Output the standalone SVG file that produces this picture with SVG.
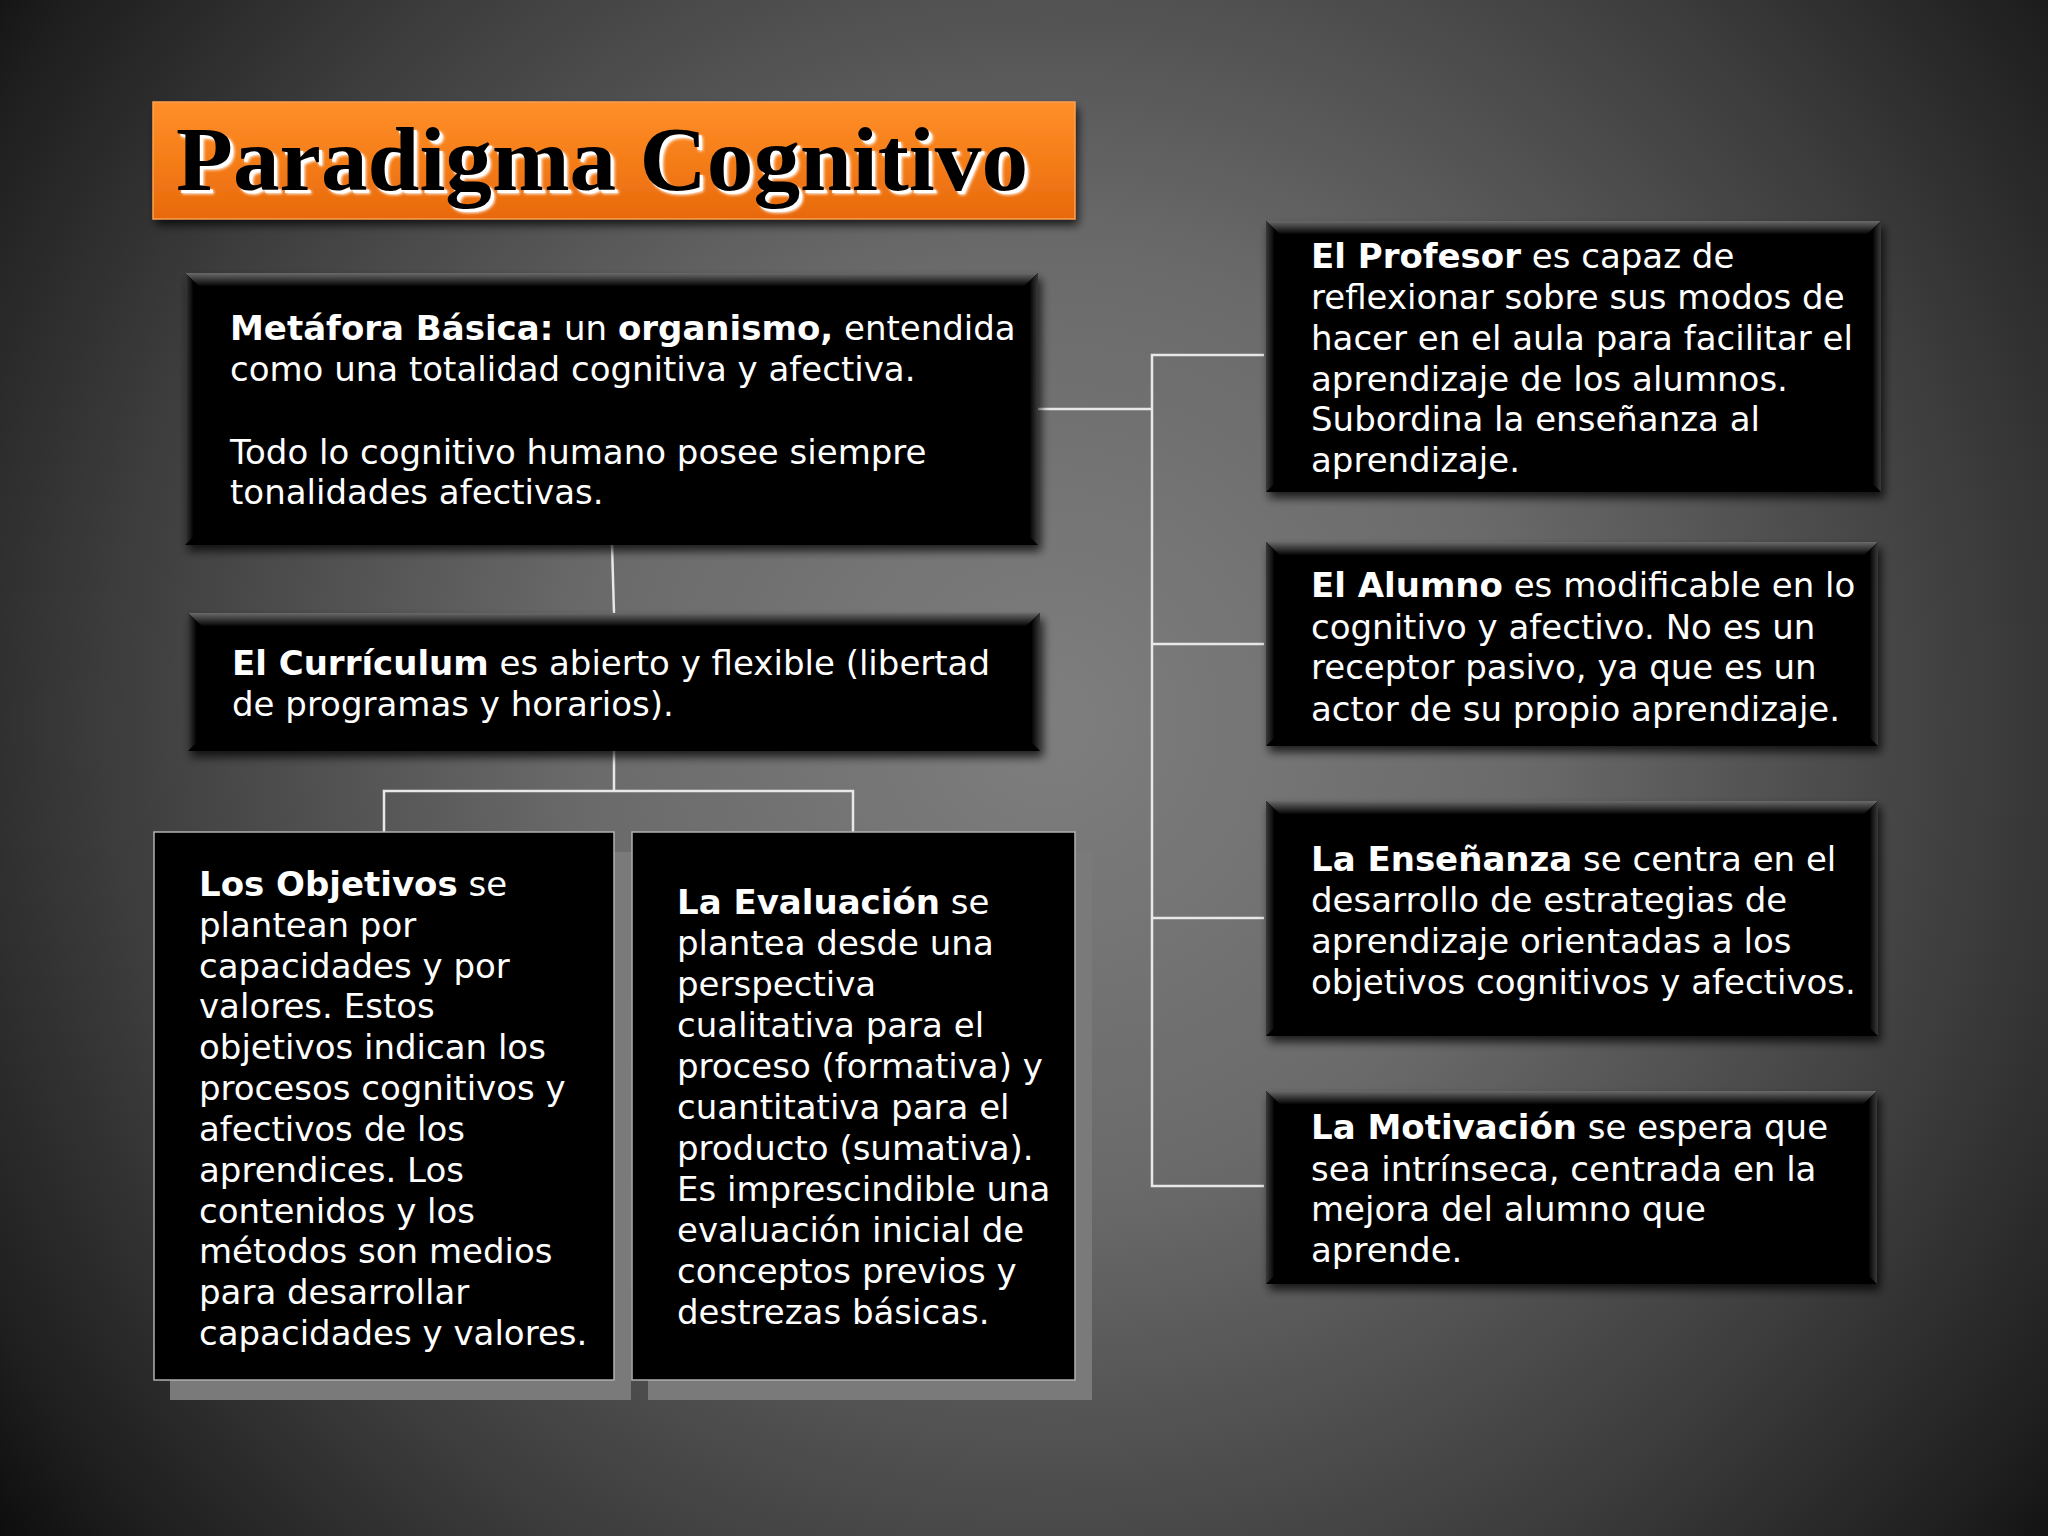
<svg xmlns="http://www.w3.org/2000/svg" width="2048" height="1536" viewBox="0 0 2048 1536">
<defs>
<radialGradient id="bg" cx="1050" cy="720" r="1350" gradientUnits="userSpaceOnUse">
<stop offset="0" stop-color="#7e7e7e"/>
<stop offset="0.35" stop-color="#6a6a6a"/>
<stop offset="0.7" stop-color="#3c3c3c"/>
<stop offset="0.9" stop-color="#1e1e1e"/>
<stop offset="1" stop-color="#0a0a0a"/>
</radialGradient>
<linearGradient id="orange" x1="0" y1="0" x2="0" y2="1">
<stop offset="0" stop-color="#ff8f2a"/>
<stop offset="0.5" stop-color="#f57d18"/>
<stop offset="1" stop-color="#e8690c"/>
</linearGradient>
<linearGradient id="bevT" x1="0" y1="0" x2="0" y2="1">
<stop offset="0" stop-color="#6a6a6a"/>
<stop offset="1" stop-color="#050505"/>
</linearGradient>
<linearGradient id="bevL" x1="0" y1="0" x2="1" y2="0">
<stop offset="0" stop-color="#3a3a3a"/>
<stop offset="1" stop-color="#050505"/>
</linearGradient>
<linearGradient id="bevR" x1="1" y1="0" x2="0" y2="0">
<stop offset="0" stop-color="#3a3a3a"/>
<stop offset="1" stop-color="#050505"/>
</linearGradient>
<filter id="shadow" x="-10%" y="-10%" width="120%" height="130%">
<feDropShadow dx="3" dy="6" stdDeviation="5" flood-color="#000" flood-opacity="0.75"/>
</filter>
<filter id="glow" x="-5%" y="-20%" width="110%" height="140%">
<feGaussianBlur stdDeviation="1.8"/>
</filter>
</defs>
<style>
.body{font-family:"DejaVu Sans","Verdana",sans-serif;font-size:34px;fill:#ffffff}
.b{font-weight:bold}
.card{fill:#030303}
.flat{fill:#000;stroke:#b0b0b0;stroke-width:1.5}
.flatsh{fill:#7a7a7a}
.conn{stroke:#e8e8e8;stroke-width:2.5;fill:none}
.title{font-family:"Liberation Serif","Times New Roman",serif;font-weight:bold;font-size:92px}
</style>

<rect width="2048" height="1536" fill="url(#bg)"/>

<g id="title">
<rect x="153" y="102" width="922" height="117" fill="url(#orange)" filter="url(#shadow)"/>
<rect x="153" y="102" width="922" height="117" fill="none" stroke="#ffa050" stroke-width="1.5"/>
<text class="title" x="180" y="194" textLength="852" lengthAdjust="spacingAndGlyphs" fill="#ffffff" filter="url(#glow)">Paradigma Cognitivo</text>
<text class="title" x="179" y="193" textLength="852" lengthAdjust="spacingAndGlyphs" fill="#ffffff">Paradigma Cognitivo</text>
<text class="title" x="176" y="190" textLength="852" lengthAdjust="spacingAndGlyphs" fill="#000000">Paradigma Cognitivo</text>
</g>

<g id="connectors">
<polyline class="conn" points="612,545 614,613"/>
<polyline class="conn" points="614,751 614,791"/>
<polyline class="conn" points="384,832 384,791 853,791 853,832"/>
<polyline class="conn" points="1038,409 1152,409"/>
<polyline class="conn" points="1264,355 1152,355 1152,1186 1264,1186"/>
<polyline class="conn" points="1152,644 1264,644"/>
<polyline class="conn" points="1152,918 1264,918"/>
</g>

<g id="metafora">
<rect class="card" x="185" y="273" width="853" height="272" filter="url(#shadow)"/>
<polygon points="185,273 1038,273 1024,286 199,286" fill="url(#bevT)"/>
<polygon points="185,273 193,281 193,537 185,545" fill="url(#bevL)"/>
<polygon points="1038,273 1030,281 1030,537 1038,545" fill="url(#bevR)"/>
<text class="body" x="230" y="340"><tspan class="b">Metáfora Básica:</tspan> un <tspan class="b">organismo,</tspan> entendida</text>
<text class="body" x="230" y="381">como una totalidad cognitiva y afectiva.</text>
<text class="body" x="230" y="464">Todo lo cognitivo humano posee siempre</text>
<text class="body" x="230" y="504">tonalidades afectivas.</text>
</g>

<g id="curriculum">
<rect class="card" x="188" y="613" width="852" height="138" filter="url(#shadow)"/>
<polygon points="188,613 1040,613 1026,626 202,626" fill="url(#bevT)"/>
<polygon points="188,613 196,621 196,743 188,751" fill="url(#bevL)"/>
<polygon points="1040,613 1032,621 1032,743 1040,751" fill="url(#bevR)"/>
<text class="body" x="232" y="675"><tspan class="b">El Currículum</tspan> es abierto y flexible (libertad</text>
<text class="body" x="232" y="716">de programas y horarios).</text>
</g>

<g id="objetivos">
<rect class="flatsh" x="170" y="852" width="461" height="548"/>
<rect class="flat" x="154" y="832" width="460" height="548"/>
<text class="body" x="199" y="896"><tspan class="b">Los Objetivos</tspan> se</text>
<text class="body" x="199" y="937">plantean por</text>
<text class="body" x="199" y="978">capacidades y por</text>
<text class="body" x="199" y="1018">valores. Estos</text>
<text class="body" x="199" y="1059">objetivos indican los</text>
<text class="body" x="199" y="1100">procesos cognitivos y</text>
<text class="body" x="199" y="1141">afectivos de los</text>
<text class="body" x="199" y="1182">aprendices. Los</text>
<text class="body" x="199" y="1223">contenidos y los</text>
<text class="body" x="199" y="1263">métodos son medios</text>
<text class="body" x="199" y="1304">para desarrollar</text>
<text class="body" x="199" y="1345">capacidades y valores.</text>
</g>

<g id="evaluacion">
<rect class="flatsh" x="648" y="852" width="444" height="548"/>
<rect class="flat" x="632" y="832" width="443" height="548"/>
<text class="body" x="677" y="914"><tspan class="b">La Evaluación</tspan> se</text>
<text class="body" x="677" y="955">plantea desde una</text>
<text class="body" x="677" y="996">perspectiva</text>
<text class="body" x="677" y="1037">cualitativa para el</text>
<text class="body" x="677" y="1078">proceso (formativa) y</text>
<text class="body" x="677" y="1119">cuantitativa para el</text>
<text class="body" x="677" y="1160">producto (sumativa).</text>
<text class="body" x="677" y="1201">Es imprescindible una</text>
<text class="body" x="677" y="1242">evaluación inicial de</text>
<text class="body" x="677" y="1283">conceptos previos y</text>
<text class="body" x="677" y="1324">destrezas básicas.</text>
</g>

<g id="profesor">
<rect class="card" x="1266" y="221" width="615" height="271" filter="url(#shadow)"/>
<polygon points="1266,221 1881,221 1867,234 1280,234" fill="url(#bevT)"/>
<polygon points="1266,221 1274,229 1274,484 1266,492" fill="url(#bevL)"/>
<polygon points="1881,221 1873,229 1873,484 1881,492" fill="url(#bevR)"/>
<text class="body" x="1311" y="268"><tspan class="b">El Profesor</tspan> es capaz de</text>
<text class="body" x="1311" y="309">reflexionar sobre sus modos de</text>
<text class="body" x="1311" y="350">hacer en el aula para facilitar el</text>
<text class="body" x="1311" y="391">aprendizaje de los alumnos.</text>
<text class="body" x="1311" y="431">Subordina la enseñanza al</text>
<text class="body" x="1311" y="472">aprendizaje.</text>
</g>

<g id="alumno">
<rect class="card" x="1266" y="542" width="612" height="204" filter="url(#shadow)"/>
<polygon points="1266,542 1878,542 1864,555 1280,555" fill="url(#bevT)"/>
<polygon points="1266,542 1274,550 1274,738 1266,746" fill="url(#bevL)"/>
<polygon points="1878,542 1870,550 1870,738 1878,746" fill="url(#bevR)"/>
<text class="body" x="1311" y="597"><tspan class="b">El Alumno</tspan> es modificable en lo</text>
<text class="body" x="1311" y="639">cognitivo y afectivo. No es un</text>
<text class="body" x="1311" y="679">receptor pasivo, ya que es un</text>
<text class="body" x="1311" y="721">actor de su propio aprendizaje.</text>
</g>

<g id="ensenanza">
<rect class="card" x="1266" y="801" width="612" height="235" filter="url(#shadow)"/>
<polygon points="1266,801 1878,801 1864,814 1280,814" fill="url(#bevT)"/>
<polygon points="1266,801 1274,809 1274,1028 1266,1036" fill="url(#bevL)"/>
<polygon points="1878,801 1870,809 1870,1028 1878,1036" fill="url(#bevR)"/>
<text class="body" x="1311" y="871"><tspan class="b">La Enseñanza</tspan> se centra en el</text>
<text class="body" x="1311" y="912">desarrollo de estrategias de</text>
<text class="body" x="1311" y="953">aprendizaje orientadas a los</text>
<text class="body" x="1311" y="994">objetivos cognitivos y afectivos.</text>
</g>

<g id="motivacion">
<rect class="card" x="1266" y="1091" width="611" height="193" filter="url(#shadow)"/>
<polygon points="1266,1091 1877,1091 1863,1104 1280,1104" fill="url(#bevT)"/>
<polygon points="1266,1091 1274,1099 1274,1276 1266,1284" fill="url(#bevL)"/>
<polygon points="1877,1091 1869,1099 1869,1276 1877,1284" fill="url(#bevR)"/>
<text class="body" x="1311" y="1139"><tspan class="b">La Motivación</tspan> se espera que</text>
<text class="body" x="1311" y="1181">sea intrínseca, centrada en la</text>
<text class="body" x="1311" y="1221">mejora del alumno que</text>
<text class="body" x="1311" y="1262">aprende.</text>
</g>
</svg>
